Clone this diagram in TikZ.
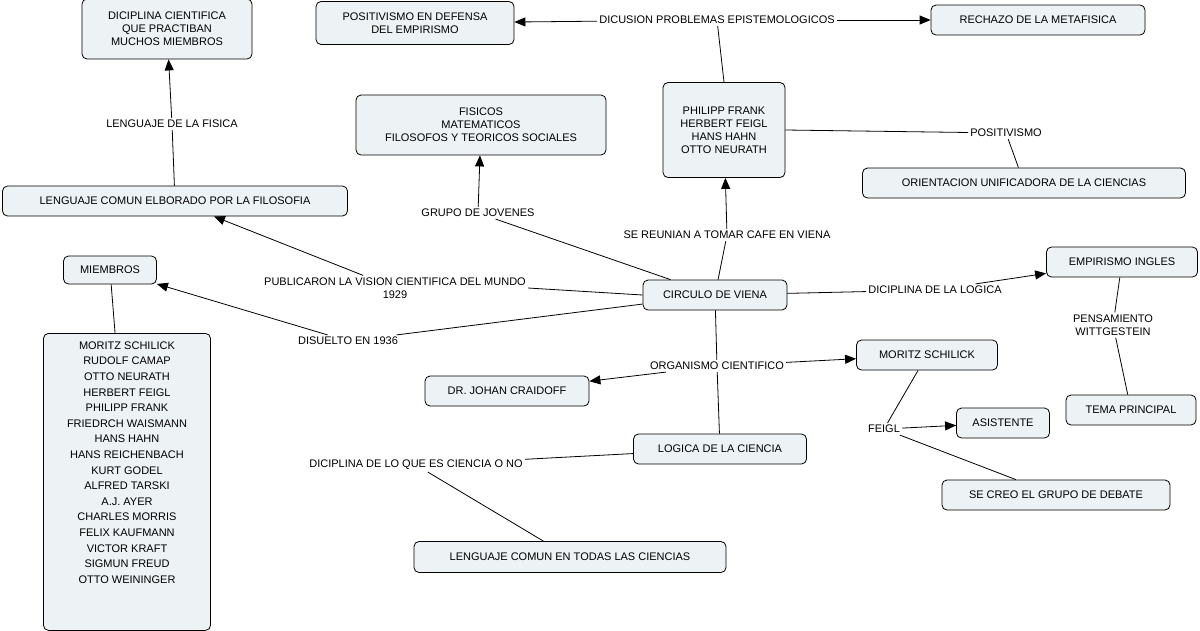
\documentclass[tikz,border=0pt]{standalone}
\usepackage{fontspec}
\setmainfont{Liberation Sans}
\usetikzlibrary{arrows.meta}
\begin{document}
\begin{tikzpicture}[x=1pt,y=-1pt,
 box/.style={draw=black,fill=boxfill,rounded corners=5pt,align=center,inner sep=5pt,font=\fontsize{11}{13}\selectfont,line width=0.8pt},
 lab/.style={fill=white,align=center,inner sep=2pt,font=\fontsize{11}{13}\selectfont},
 ln/.style={line width=0.8pt},
 ar/.style={line width=0.8pt,-{Triangle[length=11pt,width=9pt]}}]
\definecolor{boxfill}{HTML}{EDF2F5}
\useasboundingbox[fill=white] (0,0) rectangle (1200,630);
% boxes
\node[box,minimum width=170pt,minimum height=60pt] (dic) at (167,29) {DICIPLINA CIENTIFICA\\QUE PRACTIBAN\\MUCHOS MIEMBROS};
\node[box,minimum width=198pt,minimum height=43pt] (posit) at (415,23) {POSITIVISMO EN DEFENSA\\DEL EMPIRISMO};
\node[box,minimum width=214pt,minimum height=30pt] (rech) at (1038,20) {RECHAZO DE LA METAFISICA};
\node[box,minimum width=250pt,minimum height=60pt] (fis) at (481,125) {FISICOS\\MATEMATICOS\\FILOSOFOS Y TEORICOS SOCIALES};
\node[box,minimum width=122pt,minimum height=95pt] (phil) at (724,130) {PHILIPP FRANK\\HERBERT FEIGL\\HANS HAHN\\OTTO NEURATH};
\node[box,minimum width=323pt,minimum height=30pt] (orient) at (1024,183) {ORIENTACION UNIFICADORA DE LA CIENCIAS};
\node[box,minimum width=345pt,minimum height=30pt] (lcom) at (175,201) {LENGUAJE COMUN ELBORADO POR LA FILOSOFIA};
\node[box,minimum width=93pt,minimum height=28pt] (miem) at (110,270) {MIEMBROS};
\node[box,minimum width=144pt,minimum height=30pt] (circ) at (715,295) {CIRCULO DE VIENA};
\node[box,minimum width=151pt,minimum height=30pt] (emp) at (1122,262) {EMPIRISMO INGLES};
\node[box,minimum width=167pt,minimum height=297pt,anchor=north,align=center] (list) at (127,333) {};
\node[font=\fontsize{11}{15.6}\selectfont,align=center,anchor=north] (listt) at (127,338) {MORITZ SCHILICK\\RUDOLF CAMAP\\OTTO NEURATH\\HERBERT FEIGL\\PHILIPP FRANK\\FRIEDRCH WAISMANN\\HANS HAHN\\HANS REICHENBACH\\KURT GODEL\\ALFRED TARSKI\\A.J. AYER\\CHARLES MORRIS\\FELIX KAUFMANN\\VICTOR KRAFT\\SIGMUN FREUD\\OTTO WEININGER};
\node[box,minimum width=141pt,minimum height=30pt] (mor) at (927,355) {MORITZ SCHILICK};
\node[box,minimum width=164pt,minimum height=30pt] (dr) at (507,391) {DR. JOHAN CRAIDOFF};
\node[box,minimum width=130pt,minimum height=30pt] (tema) at (1131,410) {TEMA PRINCIPAL};
\node[box,minimum width=93pt,minimum height=30pt] (asis) at (1003,423) {ASISTENTE};
\node[box,minimum width=173pt,minimum height=30pt] (log) at (720,449) {LOGICA DE LA CIENCIA};
\node[box,minimum width=228pt,minimum height=30pt] (creo) at (1056,495) {SE CREO EL GRUPO DE DEBATE};
\node[box,minimum width=312pt,minimum height=31pt] (ltod) at (570,557) {LENGUAJE COMUN EN TODAS LAS CIENCIAS};
% labels
\node[lab] (ldic) at (717,20) {DICUSION PROBLEMAS EPISTEMOLOGICOS};
\node[lab] (lpos) at (1006,133) {POSITIVISMO};
\node[lab] (lfis) at (172,124) {LENGUAJE DE LA FISICA};
\node[lab] (lgru) at (478,213) {GRUPO DE JOVENES};
\node[lab] (lreu) at (727,235) {SE REUNIAN A TOMAR CAFE EN VIENA};
\node[lab] (lpub) at (395,288) {PUBLICARON LA VISION CIENTIFICA DEL MUNDO\\1929};
\node[lab] (llog) at (935,290) {DICIPLINA DE LA LOGICA};
\node[lab] (lpen) at (1113,325) {PENSAMIENTO\\WITTGESTEIN};
\node[lab] (ldis) at (348,341) {DISUELTO EN 1936};
\node[lab] (lorg) at (717,366) {ORGANISMO CIENTIFICO};
\node[lab] (lfei) at (884,429) {FEIGL};
\node[lab] (lcie) at (416,465) {DICIPLINA DE LO QUE ES CIENCIA O NO};
% connectors
\begin{scope}[on background layer/.style={}]
\draw[ln] (phil.north) -- (ldic);
\draw[ar] (ldic) -- (posit);
\draw[ar] (ldic) -- (rech);
\draw[ln] (phil.east|-lpos) ++(0,-3) -- (lpos);
\draw[ln] (lpos) -- (orient);
\draw[ln] (circ) -- (lreu);
\draw[ar] (lreu) -- (phil);
\draw[ln] (circ) -- (lgru);
\draw[ar] (lgru) -- (fis);
\draw[ln] (circ.west) -- (lpub.east);
\draw[ar] (lpub) -- (lcom);
\draw[ln] (lcom) -- (lfis);
\draw[ar] (lfis) -- (dic);
\draw[ln] (circ) -- (ldis);
\draw[ar] (ldis) -- (miem);
\draw[ln] (miem) -- (list);
\draw[ln] (circ) -- (llog);
\draw[ar] (llog) -- (emp);
\draw[ln] (emp) -- (lpen);
\draw[ln] (lpen) -- (tema);
\draw[ln] (circ) -- (lorg);
\draw[ar] (lorg) -- (mor);
\draw[ar] (lorg) -- (dr);
\draw[ln] (lorg) -- (log);
\draw[ln] (log) -- (lcie);
\draw[ln] (lcie) -- (ltod);
\draw[ln] (mor) -- (lfei);
\draw[ar] (lfei) -- (asis);
\draw[ln] (lfei) -- (creo);
\end{scope}
\end{tikzpicture}
\end{document}
